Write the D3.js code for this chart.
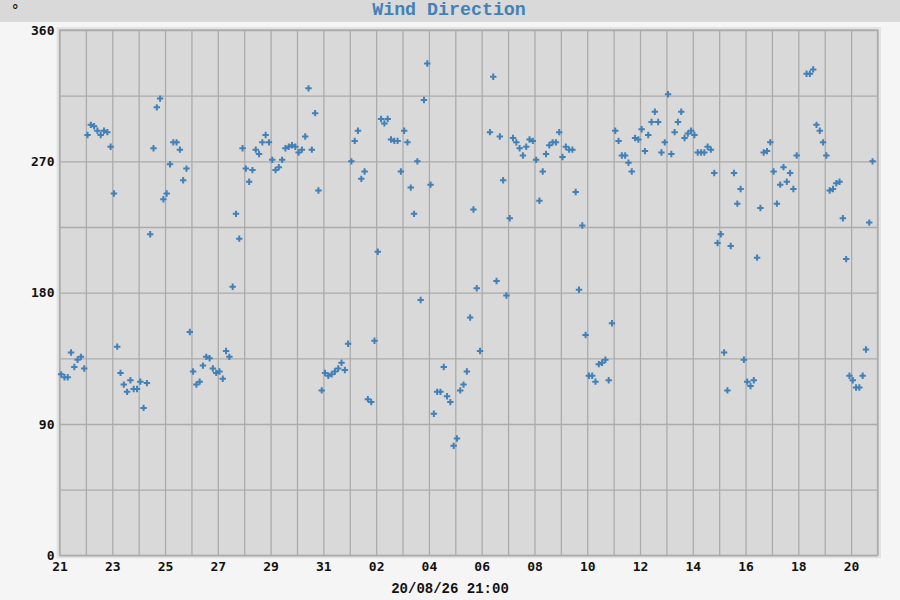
<!DOCTYPE html>
<html>
<head>
<meta charset="utf-8">
<title>Wind Direction</title>
<script src="https://d3js.org/d3.v7.min.js"></script>
<style>
  body { margin: 0; background: #f5f5f5; }
  svg { display: block; }
</style>
</head>
<body>
<div id="dataviz-container"></div>
<script>
// wind direction, one value per 3 hour slot starting 21 Jul 00:00 (null = no data)
var degrees = [
  124, 122, 122, 139, 129, 134, 136, 128,
  288, 295, 294, 291, 288, 291, 290, 280,
  248, 143, 125, 117, 112, 120, 114, 114,
  119, 101, 118, 220, 279, 307, 313, 244,
  248, 268, 283, 283, 278, 257, 265, 153,
  126, 117, 119, 130, 136, 135, 128, 125,
  126, 121, 140, 136, 184, 234, 217, 279,
  265, 256, 264, 278, 275, 283, 288, 283,
  271, 264, 266, 271, 279, 280, 281, 280,
  276, 278, 287, 320, 278, 303, 250, 113,
  125, 123, 124, 126, 128, 132, 127, 145,
  270, 284, 291, 258, 263, 107, 105, 147,
  208, 299, 296, 299, 285, 284, 284, 263,
  291, 283, 252, 234, 270, 175, 312, 337,
  254, 97, 112, 112, 129, 109, 105, 75,
  80, 113, 117, 126, 163, 237, 183, 140,
  null, null, 290, 328, 188, 287, 257, 178,
  231, 286, 283, 279, 274, 280, 285, 284,
  271, 243, 263, 275, 281, 283, 283, 290,
  273, 280, 278, 278, 249, 182, 226, 151,
  123, 123, 119, 131, 132, 134, 120, 159,
  291, 284, 274, 274, 269, 263, 286, 285,
  292, 277, 288, 297, 304, 297, 276, 283,
  316, 275, 290, 297, 304, 286, 289, 291,
  288, 276, 276, 276, 280, 278, 262, 214,
  220, 139, 113, 212, 262, 241, 251, 134,
  119, 116, 120, 204, 238, 276, 277, 283,
  263, 241, 254, 266, 256, 262, 251, 274,
  null, null, 330, 330, 333, 295, 291, 283,
  274, 250, 251, 255, 256, 231, 203, 123,
  120, 115, 115, 123, 141, 228, 270
];
var yTicks = [0, 45, 90, 135, 180, 225, 270, 315, 360];
var yLabels = [0, 90, 180, 270, 360];
var startTime = new Date(Date.UTC(2026, 6, 21, 0, 0));
var endTime = new Date(Date.UTC(2026, 7, 21, 0, 0));
var titleText = 'Wind Direction';
var unitText = '\u00b0';
var timeLabel = '20/08/26 21:00';

var W = 900, H = 600;
var plotLeft = 59.5, plotRight = 877.5, plotTop = 30, plotBottom = 555.3;
var blue = '#4281b8';
var gridColor = '#ababab';

var svg = d3.select('#dataviz-container')
  .append('svg')
    .attr('width', W).attr('height', H);

// title bar
svg.append('rect').attr('x', 0).attr('y', 0).attr('width', W).attr('height', 22).attr('fill', '#d9d9d9');
svg.append('text')
  .attr('x', 449).attr('y', 14.5)
  .attr('text-anchor', 'middle')
  .attr('font-family', 'Liberation Mono, monospace')
  .attr('font-weight', 'bold').attr('font-size', 18.3)
  .attr('fill', blue)
  .text(titleText);
svg.append('text')
  .attr('x', 11).attr('y', 15)
  .attr('font-family', 'DejaVu Sans Mono, monospace')
  .attr('font-size', 14).attr('fill', '#000')
  .text(unitText);

// plot frame
svg.append('rect')
  .attr('x', plotLeft - 3).attr('y', plotTop - 3)
  .attr('width', plotRight - plotLeft + 6.5).attr('height', plotBottom - plotTop + 6)
  .attr('fill', '#e3e3e3');
svg.append('rect')
  .attr('x', plotLeft).attr('y', plotTop)
  .attr('width', plotRight - plotLeft).attr('height', plotBottom - plotTop)
  .attr('fill', '#d9d9d9');

var x = d3.scaleUtc().domain([startTime, endTime]).range([plotLeft, plotRight]);
var y = d3.scaleLinear().domain([0, 360]).range([plotBottom, plotTop]);

var days = d3.utcDay.range(startTime, d3.utcDay.offset(endTime, 1));

var xAxis = d3.axisBottom(x)
  .tickValues(days)
  .tickSize(-(plotBottom - plotTop))
  .tickPadding(6.5)
  .tickFormat(function(d, i) { return i % 2 === 0 && i < 31 ? d3.utcFormat('%d')(d) : ''; });

var yAxis = d3.axisLeft(y)
  .tickValues(yTicks)
  .tickSize(-(plotRight - plotLeft))
  .tickPadding(5)
  .tickFormat(function(d) { return yLabels.indexOf(d) >= 0 ? d : ''; });

function styleAxis(g) {
  g.select('.domain').remove();
  g.selectAll('.tick line').attr('stroke', gridColor).attr('stroke-width', 1.3);
  g.selectAll('.tick text')
    .attr('font-family', 'DejaVu Sans Mono, monospace')
    .attr('font-weight', 'bold').attr('font-size', 13)
    .attr('fill', '#111');
}

svg.append('g').attr('transform', 'translate(0,' + plotBottom + ')').call(xAxis).call(styleAxis);
svg.append('g').attr('transform', 'translate(' + plotLeft + ',0)').call(yAxis).call(styleAxis);

svg.append('rect')
  .attr('x', plotLeft).attr('y', plotTop)
  .attr('width', plotRight - plotLeft).attr('height', plotBottom - plotTop)
  .attr('fill', 'none').attr('stroke', gridColor).attr('stroke-width', 1.3);

// points, plotted at the middle of each 3 hour slot
var points = degrees.map(function(v, i) {
  return { t: new Date(startTime.getTime() + (i * 3 + 1.5) * 3600 * 1000), v: v };
}).filter(function(d) { return d.v !== null; });

svg.append('g').selectAll('path')
  .data(points)
  .enter().append('path')
    .attr('transform', function(d) { return 'translate(' + x(d.t) + ',' + y(d.v) + ')'; })
    .attr('d', 'M-3.2,0H3.2M0,-3.2V3.2')
    .attr('stroke', blue).attr('stroke-width', 2)
    .attr('fill', 'none');

svg.append('text')
  .attr('x', 450).attr('y', 592.5)
  .attr('text-anchor', 'middle')
  .attr('font-family', 'Liberation Mono, monospace')
  .attr('font-weight', 'bold').attr('font-size', 14)
  .attr('fill', '#111')
  .text(timeLabel);
</script>
</body>
</html>
